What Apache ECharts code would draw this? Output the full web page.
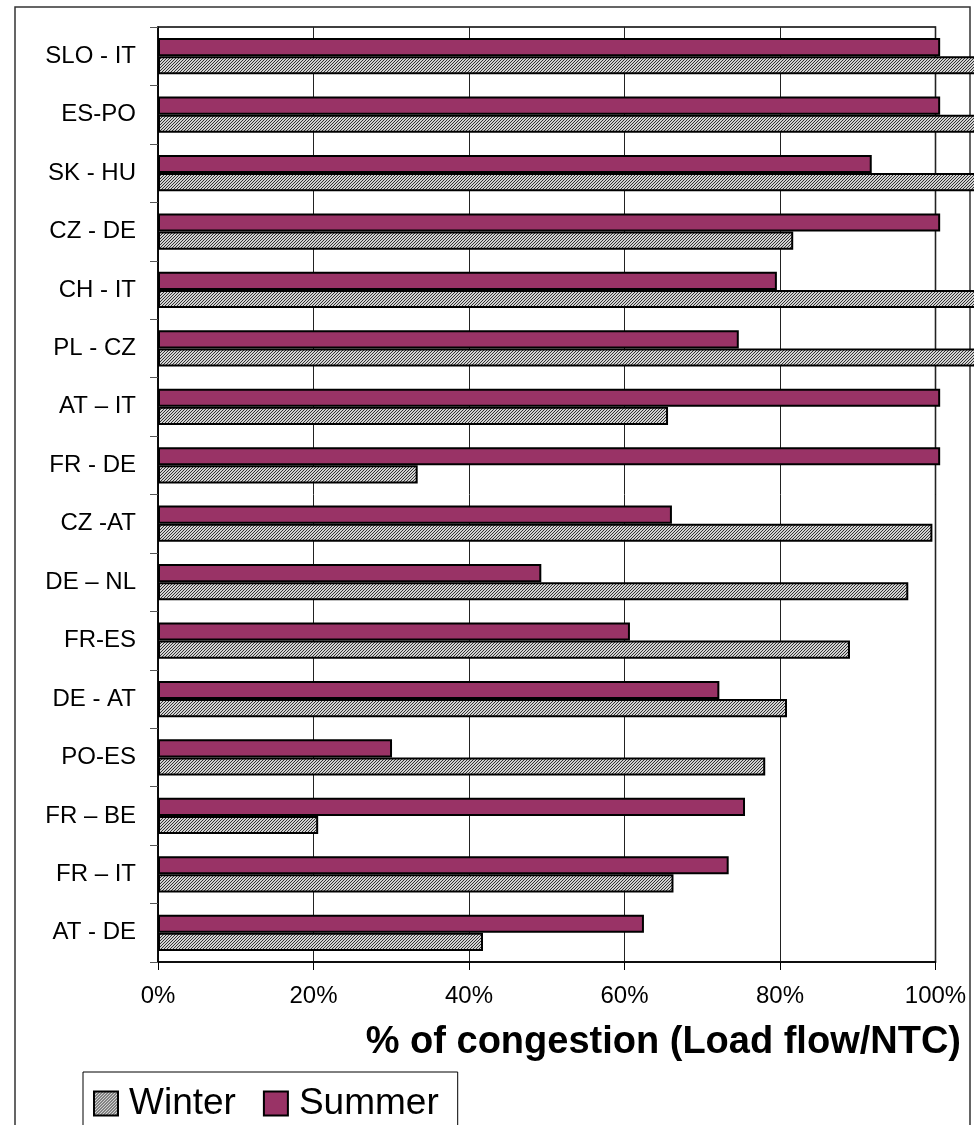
<!DOCTYPE html>
<html lang="en">
<head>
    <meta charset="UTF-8">
    <title>% of congestion</title>
    <script src="https://cdn.jsdelivr.net/npm/echarts@6/dist/echarts.min.js"></script>
    <style>
        html, body { margin: 0; padding: 0; background: #fff; }
    </style>
</head>
<body>
  <div id="main" style="width: 974px; height: 1125px;"></div>
  <script type="text/javascript">
    // interconnections, top to bottom
    var borders = ['SLO - IT', 'ES-PO', 'SK - HU', 'CZ - DE', 'CH - IT', 'PL - CZ', 'AT \u2013 IT', 'FR - DE',
                   'CZ -AT', 'DE \u2013 NL', 'FR-ES', 'DE - AT', 'PO-ES', 'FR \u2013 BE', 'FR \u2013 IT', 'AT - DE'];
    // load flow / NTC (values over 1 run off the plot in the original)
    var summer = [1.006, 1.006, 0.918, 1.006, 0.796, 0.747, 1.006, 1.006,
                  0.661, 0.493, 0.607, 0.722, 0.301, 0.755, 0.734, 0.625];
    var winter = [1.06, 1.06, 1.06, 0.817, 1.06, 1.06, 0.656, 0.334,
                  0.996, 0.965, 0.890, 0.809, 0.781, 0.206, 0.663, 0.418];
    var xTicks = [0, 0.2, 0.4, 0.6, 0.8, 1];

    // fine diagonal hatch like the old excel pattern fill
    var hatch = document.createElement('canvas');
    hatch.width = 3; hatch.height = 3;
    var hc = hatch.getContext('2d');
    hc.fillStyle = '#d2d2d2';
    hc.fillRect(0, 0, 3, 3);
    hc.fillStyle = '#333';
    for (var i = 0; i < 3; i++) {
        hc.fillRect(i, 2 - i, 1, 1);
    }

    var font = '"Liberation Sans", Arial, sans-serif';
    var myChart = echarts.init(document.getElementById('main'));

    var option = {
        animation: false,
        backgroundColor: '#fff',
        title: {
            text: '% of congestion (Load flow/NTC)',
            right: 8,
            top: 1019,
            textStyle: {fontFamily: font, fontSize: 38, fontWeight: 'bold', color: '#000'}
        },
        legend: {
            data: ['Winter', 'Summer'],
            left: 83,
            top: 1072,
            icon: 'rect',
            itemWidth: 24,
            itemHeight: 24,
            itemGap: 27,
            padding: [13, 19, 19, 10],
            borderColor: '#000',
            borderWidth: 1,
            backgroundColor: '#fff',
            textStyle: {fontFamily: font, fontSize: 37, color: '#000', padding: [0, 0, 0, 6]}
        },
        graphic: [{
            type: 'rect',
            shape: {x: 15, y: 7, width: 955, height: 1150},
            style: {fill: null, stroke: '#333', lineWidth: 1.5},
            silent: true
        }],
        grid: {
            left: 158,
            right: 38.5,
            top: 27,
            bottom: 163,
            show: true,
            borderColor: '#000',
            borderWidth: 1.5
        },
        xAxis: {
            type: 'value',
            min: 0,
            max: 1,
            interval: 0.2,
            axisLine: {show: true, lineStyle: {color: '#000', width: 1.5}},
            axisTick: {show: true, length: 8, lineStyle: {color: '#000'}},
            splitLine: {show: true, lineStyle: {color: '#222', width: 1}},
            axisLabel: {
                fontFamily: font, fontSize: 24, color: '#000', margin: 22,
                formatter: function (v) {
                    return xTicks.indexOf(Math.round(v * 10) / 10) >= 0 ? Math.round(v * 100) + '%' : '';
                }
            }
        },
        yAxis: {
            type: 'category',
            inverse: true,
            data: borders,
            axisLine: {show: true, lineStyle: {color: '#000', width: 1.5}},
            axisTick: {show: true, length: 8, lineStyle: {color: '#555'}},
            axisLabel: {fontFamily: font, fontSize: 24, color: '#000', margin: 22}
        },
        series: [
            {
                name: 'Summer',
                type: 'bar',
                data: summer,
                clip: false,
                barGap: '0%',
                barCategoryGap: '38%',
                itemStyle: {color: '#993366', borderColor: '#000', borderWidth: 2}
            },
            {
                name: 'Winter',
                type: 'bar',
                data: winter,
                clip: false,
                itemStyle: {color: {image: hatch, repeat: 'repeat'}, borderColor: '#000', borderWidth: 2}
            }
        ]
    };
    myChart.setOption(option);
  </script>
</body>
</html>
